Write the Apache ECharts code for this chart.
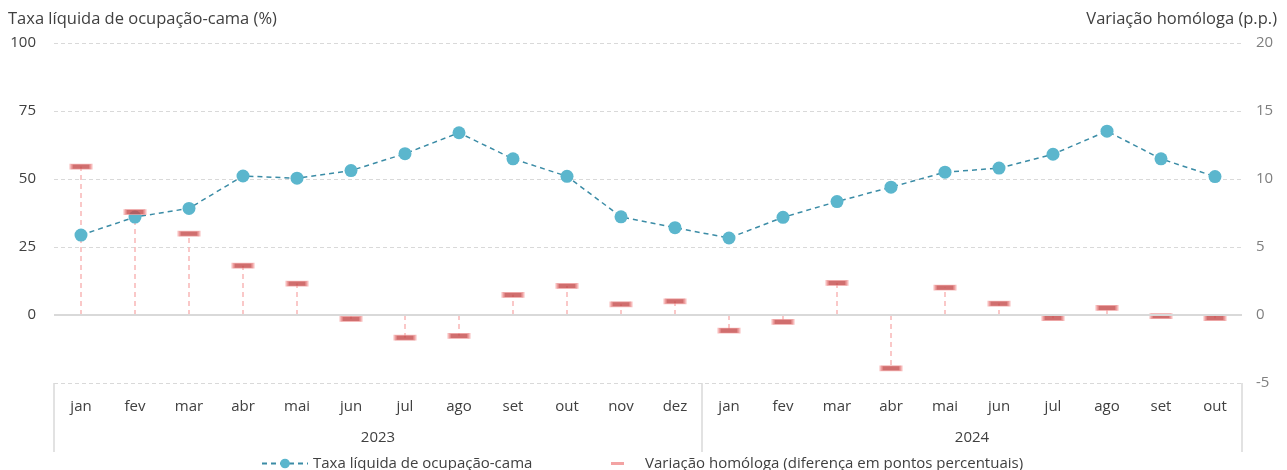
<!DOCTYPE html>
<html>
<head>
<meta charset="utf-8">
<script src="https://cdn.jsdelivr.net/npm/echarts@6/dist/echarts.min.js"></script>
<style>
html,body{margin:0;padding:0;background:#fff;}
#c{width:1287px;height:470px;}
</style>
</head>
<body>
<div id="c"></div>
<script>
// ---- data ----
const months = ['jan','fev','mar','abr','mai','jun','jul','ago','set','out','nov','dez',
                'jan','fev','mar','abr','mai','jun','jul','ago','set','out'];
const years = ['2023','2024'];
const monthsPerYear = [12, 10];
const occupancy = [29.4, 36.0, 39.2, 51.1, 50.3, 53.1, 59.3, 67.0, 57.4, 51.0, 36.1, 32.1,
                   28.3, 35.9, 41.7, 47.0, 52.5, 54.0, 59.1, 67.6, 57.4, 50.9];
const yoyChange = [10.91, 7.57, 5.98, 3.63, 2.31, -0.28, -1.67, -1.53, 1.48, 2.14, 0.79, 1.01,
                   -1.14, -0.50, 2.36, -3.92, 2.02, 0.84, -0.23, 0.53, -0.09, -0.23];
const leftTicks = [-25, 0, 25, 50, 75, 100];
const rightTicks = [-5, 0, 5, 10, 15, 20];
const seriesNames = ['Taxa líquida de ocupação-cama', 'Variação homóloga (diferença em pontos percentuais)'];
const axisTitles = ['Taxa líquida de ocupação-cama (%)', 'Variação homóloga (p.p.)'];

// derived: year group boundaries and centers (in category index units)
const boundaries = [];
const centers = {};
let acc = 0;
years.forEach((y, i) => {
  boundaries.push(acc);
  centers[(acc + (acc + monthsPerYear[i] - 1)) / 2] = y;
  acc += monthsPerYear[i];
});

const FONT = 'Open Sans';
const chart = echarts.init(document.getElementById('c'));
chart.setOption({
  animation: false,
  textStyle: { fontFamily: FONT },
  title: [
    { text: axisTitles[0], left: 3, top: 6, textStyle: { fontFamily: FONT, fontSize: 16.5, fontWeight: 'normal', color: '#404040' } },
    { text: axisTitles[1], right: 5, top: 6, textStyle: { fontFamily: FONT, fontSize: 16.5, fontWeight: 'normal', color: '#404040' } }
  ],
  grid: { left: 54, right: 45, top: 43, bottom: 87 },
  legend: [
    { data: [seriesNames[0]], left: 256, top: 451, itemWidth: 46, itemHeight: 12, itemGap: 10,
      textStyle: { fontFamily: FONT, fontSize: 15, color: '#404040' } },
    { data: [{ name: seriesNames[1], icon: 'rect' }], left: 606, top: 451, itemWidth: 13, itemHeight: 3,
      itemStyle: { color: '#F08C8C', borderWidth: 0 },
      textStyle: { fontFamily: FONT, fontSize: 15, color: '#404040', padding: [0, 0, 0, 16] } }
  ],
  xAxis: [
    { type: 'category', data: months, boundaryGap: true, position: 'bottom',
      axisLine: { show: false, onZero: false },
      axisTick: { show: true, length: 69, interval: (i) => boundaries.indexOf(i) >= 0,
                  lineStyle: { color: '#D9D9D9', width: 1.5 } },
      axisLabel: { interval: 0, margin: 16, fontSize: 15, color: '#404040', fontFamily: FONT },
      splitLine: { show: false } },
    { type: 'value', position: 'bottom', min: -0.5, max: acc - 0.5, interval: 0.5,
      axisLine: { show: false, onZero: false }, axisTick: { show: false }, splitLine: { show: false },
      axisLabel: { margin: 47, fontSize: 15, color: '#404040', fontFamily: FONT,
                   formatter: (v) => centers[v] || '' } }
  ],
  yAxis: [
    { type: 'value', min: leftTicks[0], max: leftTicks[leftTicks.length - 1], interval: 25,
      axisLine: { show: false }, axisTick: { show: false },
      axisLabel: { margin: 18, fontSize: 15, color: '#404040', fontFamily: FONT,
                   formatter: (v) => v === leftTicks[0] ? '' : String(v) },
      splitLine: { lineStyle: { color: '#D9D9D9', type: [4, 3], width: 1 } } },
    { type: 'value', min: rightTicks[0], max: rightTicks[rightTicks.length - 1], interval: 5,
      axisLine: { show: false }, axisTick: { show: false },
      axisLabel: { margin: 14, fontSize: 15, color: '#7F7F7F', fontFamily: FONT },
      splitLine: { show: false } }
  ],
  series: [
    { name: 'drop', type: 'custom', yAxisIndex: 1, silent: true, z: 1,
      data: yoyChange.map((v, i) => [i, v]),
      renderItem: (params, api) => {
        const p0 = api.coord([api.value(0), 0]);
        const p1 = api.coord([api.value(0), api.value(1)]);
        return { type: 'line', shape: { x1: p0[0], y1: p0[1], x2: p1[0], y2: p1[1] },
                 style: { stroke: '#F9B6B6', lineWidth: 1.5, lineDash: [5, 4] } };
      } },
    { name: seriesNames[0], type: 'line', yAxisIndex: 0, z: 3, data: occupancy,
      symbol: 'circle', symbolSize: 13,
      itemStyle: { color: '#5BB6CD' },
      lineStyle: { color: '#3B8CA6', type: [5, 4], width: 1.5 },
      markLine: { silent: true, symbol: 'none', label: { show: false },
                  lineStyle: { color: '#D9D9D9', type: 'solid', width: 2 },
                  data: [{ yAxis: 0 }] } },
    { name: seriesNames[1], type: 'scatter', yAxisIndex: 1, z: 4, data: yoyChange,
      symbol: 'rect', symbolSize: [20, 5],
      itemStyle: { color: '#C44A4A', borderColor: '#F4A9A9', borderWidth: 1.5 } }
  ]
});
</script>
</body>
</html>
